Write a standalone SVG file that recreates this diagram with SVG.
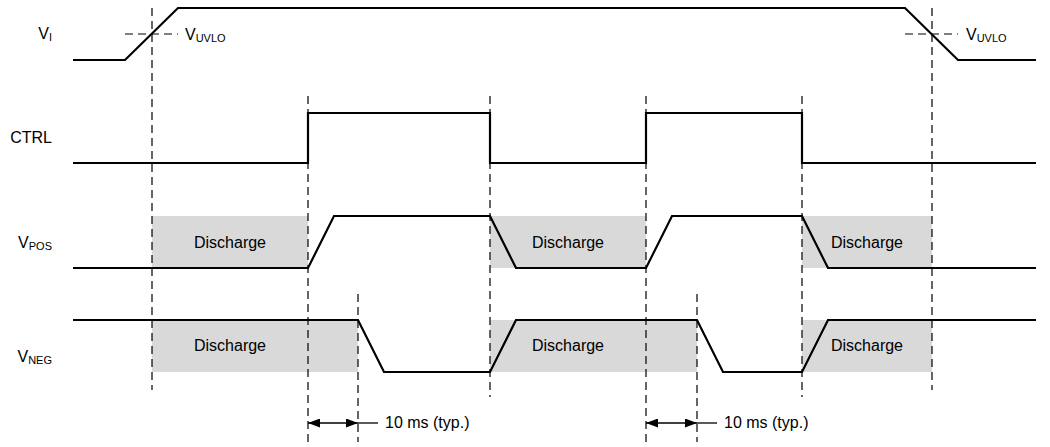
<svg xmlns="http://www.w3.org/2000/svg" width="1050" height="447" viewBox="0 0 1050 447">
<style>
text{font-family:"Liberation Sans",Arial,sans-serif;font-size:16px;fill:#000}
.sub{font-size:11px}
.sig{fill:none;stroke:#000;stroke-width:2.2;stroke-linejoin:miter}
.dash{fill:none;stroke:#000;stroke-width:1.2;stroke-dasharray:8,5}
.box{fill:#d9d9d9}
.dim{fill:none;stroke:#000;stroke-width:1.3}
</style>
<defs>
<marker id="ah" viewBox="0 0 12 9" refX="12" refY="4.5" markerWidth="12" markerHeight="9" markerUnits="userSpaceOnUse" orient="auto-start-reverse">
<path d="M0,0 L12,4.5 L0,9 Z" fill="#000"/>
</marker>
</defs>
<rect width="1050" height="447" fill="#fff"/>
<g id="shading">
<rect class="box" x="152" y="216" width="156" height="52"/>
<rect class="box" x="490" y="216" width="156" height="52"/>
<rect class="box" x="802" y="216" width="130" height="52"/>
<rect class="box" x="152" y="320" width="206" height="52"/>
<rect class="box" x="490" y="320" width="207" height="52"/>
<rect class="box" x="802" y="320" width="130" height="52"/>
</g>
<g id="connectors">
<line class="dash" x1="152" y1="8" x2="152" y2="390"/>
<line class="dash" x1="932" y1="8" x2="932" y2="390"/>
<line class="dash" x1="308" y1="96" x2="308" y2="442"/>
<line class="dash" x1="490" y1="96" x2="490" y2="397"/>
<line class="dash" x1="646" y1="96" x2="646" y2="442"/>
<line class="dash" x1="802" y1="96" x2="802" y2="397"/>
<line class="dash" x1="358" y1="294" x2="358" y2="442"/>
<line class="dash" x1="697" y1="294" x2="697" y2="442"/>
<line class="dash" x1="125" y1="34" x2="178" y2="34"/>
<line class="dash" x1="905" y1="34" x2="958" y2="34"/>
<line class="dim" x1="308" y1="423" x2="358" y2="423" marker-start="url(#ah)" marker-end="url(#ah)"/>
<line class="dim" x1="358" y1="423" x2="378" y2="423"/>
<line class="dim" x1="646" y1="423" x2="697" y2="423" marker-start="url(#ah)" marker-end="url(#ah)"/>
<line class="dim" x1="697" y1="423" x2="717" y2="423"/>
</g>
<g id="vi">
<polyline class="sig" points="73,60 125,60 178,8 905,8 958,60 1036,60"/>
<text x="52" y="39" text-anchor="end">V<tspan class="sub" dy="2">I</tspan></text>
<text x="185" y="40">V<tspan class="sub" dy="2">UVLO</tspan></text>
<text x="966" y="40">V<tspan class="sub" dy="2">UVLO</tspan></text>
</g>
<g id="ctrl">
<polyline class="sig" points="73,163 308,163 308,113 490,113 490,163 646,163 646,113 802,113 802,163 1036,163"/>
<text x="52" y="143" text-anchor="end">CTRL</text>
</g>
<g id="vpos">
<polyline class="sig" points="73,268 308,268 334,216 490,216 516,268 646,268 672,216 802,216 828,268 1036,268"/>
<text x="52" y="248" text-anchor="end">V<tspan class="sub" dy="2">POS</tspan></text>
<text x="230" y="248" text-anchor="middle">Discharge</text>
<text x="568" y="248" text-anchor="middle">Discharge</text>
<text x="867" y="248" text-anchor="middle">Discharge</text>
</g>
<g id="vneg">
<polyline class="sig" points="73,320 358,320 384,372 490,372 516,320 697,320 723,372 802,372 828,320 1036,320"/>
<text x="52" y="362" text-anchor="end">V<tspan class="sub" dy="2">NEG</tspan></text>
<text x="230" y="351" text-anchor="middle">Discharge</text>
<text x="568" y="351" text-anchor="middle">Discharge</text>
<text x="867" y="351" text-anchor="middle">Discharge</text>
</g>
<g id="timing-labels">
<text x="385" y="428">10 ms (typ.)</text>
<text x="724" y="428">10 ms (typ.)</text>
</g>
</svg>
